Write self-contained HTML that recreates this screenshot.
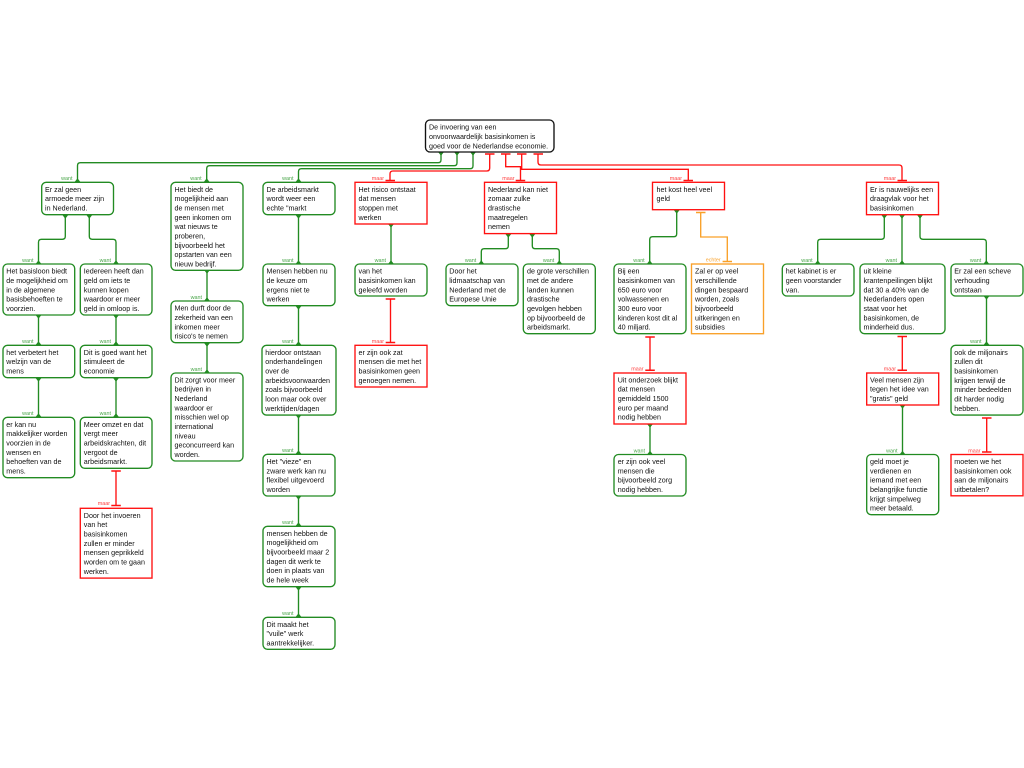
<!DOCTYPE html>
<html><head><meta charset="utf-8"><title>Argumentatieschema</title>
<style>
html,body{margin:0;padding:0;background:#fff;width:1024px;height:768px;overflow:hidden}
svg{display:block;filter:blur(.3px)}
text{font-family:"Liberation Sans",Arial,sans-serif}
.t{font-size:7.15px;fill:#111}
.l{font-size:5.4px;text-anchor:end}
.lg{fill:#4aa64a}.lr{fill:#ff4040}.lo{fill:#f9a533}
.g{fill:#fff;stroke:#228b22;stroke-width:1.35;rx:4.5px}
.r{fill:#fff;stroke:#ff1010;stroke-width:1.35}
.o{fill:#fff;stroke:#f9a028;stroke-width:1.35}
.k{fill:#fff;stroke:#111;stroke-width:1.35;rx:4.5px}
.cg{fill:none;stroke:#228b22;stroke-width:1.35}
.cr{fill:none;stroke:#ff1010;stroke-width:1.35}
.co{fill:none;stroke:#f9a028;stroke-width:1.35}
</style></head><body>
<svg width="1024" height="768" viewBox="0 0 1024 768" xmlns="http://www.w3.org/2000/svg">
<!-- connectors green -->
<path class="cg" d="M441 152V159.7Q441 162.7 438 162.7H80.5Q77.5 162.7 77.5 165.7V182
M457 152V162.7Q457 165.7 454 165.7H209.7Q206.7 165.7 206.7 168.7V182
M473 152V165.7Q473 168.7 470 168.7H301.5Q298.5 168.7 298.5 171.7V182
M65.3 215V236.3Q65.3 239.3 62.3 239.3H41.5Q38.5 239.3 38.5 242.3V264
M89.3 215V236.3Q89.3 239.3 92.3 239.3H113Q116 239.3 116 242.3V264
M38.5 315V345M38.5 378V417M116 315V345M116 378V417
M207 270V301M207 343V373
M298.5 215V264M298.5 306V345M298.5 415V454M298.5 496V526M298.5 587V617
M391 224V264
M508.3 234V245.7Q508.3 248.7 505.3 248.7H484.3Q481.3 248.7 481.3 251.7V264
M532.3 234V245.7Q532.3 248.7 535.3 248.7H556.3Q559.3 248.7 559.3 251.7V264
M676.7 210V233.7Q676.7 236.7 673.7 236.7H652.7Q649.7 236.7 649.7 239.7V264
M650 424V454.5
M884.3 215V236.3Q884.3 239.3 881.3 239.3H820.7Q817.7 239.3 817.7 242.3V264
M902 215V264
M920 215V236.3Q920 239.3 923 239.3H983.3Q986.3 239.3 986.3 242.3V264
M902.5 405V454.5
M986.5 296V345"/>
<!-- connectors red -->
<path class="cr" d="M489.7 154V168Q489.7 171 486.7 171H393Q390 171 390 174V180
M505.7 154V166.7H520.5V180
M521.7 154V169.3H688.3V180
M538 154V162Q538 165 541 165H899Q902 165 902 168V180
M116 471V505
M390.5 299V342
M650 337V370.3
M902.3 336.5V370.3
M986.7 418V452"/>
<path class="cr" style="stroke-width:1.5" d="M485 154H494.5M501 154H510.5M517 154H526.5M533.5 154H543
M385.5 180.5H395M515.7 180.5H525.2M683.5 180.5H693M897.5 180.5H907
M111.3 471H120.8M111.3 505.5H120.8
M385.7 299H395.2M385.7 342.5H395.2
M645.3 337H654.8M645.3 370.3H654.8
M897.5 336.5H907M897.5 370.3H907
M982 418H991.5M982 452H991.5"/>
<path class="co" d="M700.7 212.5V237H727.3V261.5"/>
<path class="co" style="stroke-width:1.5" d="M696 212.5H705.5M722.6 261.5H732"/>
<!-- arrow triangles -->
<path fill="#228b22" stroke="#228b22" stroke-width=".7" d="M438.5 152h5l-2.5 3.2zM454.5 152h5l-2.5 3.2zM470.5 152h5l-2.5 3.2z
M75 182h5l-2.5-3.2zM204.2 182h5l-2.5-3.2zM296 182h5l-2.5-3.2z
M62.8 215h5l-2.5 3.2zM86.8 215h5l-2.5 3.2zM36 264h5l-2.5-3.2zM113.5 264h5l-2.5-3.2z
M36 315h5l-2.5 3.2zM113.5 315h5l-2.5 3.2zM36 345h5l-2.5-3.2zM113.5 345h5l-2.5-3.2z
M36 378h5l-2.5 3.2zM113.5 378h5l-2.5 3.2zM36 417h5l-2.5-3.2zM113.5 417h5l-2.5-3.2z
M204.5 270h5l-2.5 3.2zM204.5 301h5l-2.5-3.2zM204.5 343h5l-2.5 3.2zM204.5 373h5l-2.5-3.2z
M296 215h5l-2.5 3.2zM296 264h5l-2.5-3.2zM296 306h5l-2.5 3.2zM296 345h5l-2.5-3.2z
M296 415h5l-2.5 3.2zM296 454h5l-2.5-3.2zM296 496h5l-2.5 3.2zM296 526h5l-2.5-3.2z
M296 587h5l-2.5 3.2zM296 617h5l-2.5-3.2z
M388.5 224h5l-2.5 3.2zM388.5 264h5l-2.5-3.2z
M505.8 234h5l-2.5 3.2zM529.8 234h5l-2.5 3.2zM478.8 264h5l-2.5-3.2zM556.8 264h5l-2.5-3.2z
M674.2 210h5l-2.5 3.2zM647.2 264h5l-2.5-3.2zM647.5 424h5l-2.5 3.2zM647.5 454.5h5l-2.5-3.2z
M881.8 215h5l-2.5 3.2zM899.5 215h5l-2.5 3.2zM917.5 215h5l-2.5 3.2z
M815.2 264h5l-2.5-3.2zM899.5 264h5l-2.5-3.2zM983.8 264h5l-2.5-3.2z
M900 405h5l-2.5 3.2zM900 454.5h5l-2.5-3.2zM984 296h5l-2.5 3.2zM984 345h5l-2.5-3.2z"/>
<!-- connector labels -->
<g class="l lg">
<text x="72.5" y="180">want</text><text x="201.7" y="180">want</text><text x="293.5" y="180">want</text>
<text x="33.5" y="262">want</text><text x="111" y="262">want</text>
<text x="33.5" y="343">want</text><text x="111" y="343">want</text>
<text x="33.5" y="415">want</text><text x="111" y="415">want</text>
<text x="202" y="299">want</text><text x="202" y="371">want</text>
<text x="293.5" y="262">want</text><text x="293.5" y="343">want</text><text x="293.5" y="452">want</text><text x="293.5" y="524">want</text><text x="293.5" y="615">want</text>
<text x="386" y="262">want</text><text x="476.3" y="262">want</text><text x="554.3" y="262">want</text>
<text x="644.7" y="262">want</text><text x="645" y="452.5">want</text>
<text x="812.7" y="262">want</text><text x="897" y="262">want</text><text x="981.3" y="262">want</text>
<text x="897.5" y="452.5">want</text><text x="981.5" y="343">want</text>
</g>
<g class="l lr">
<text x="384" y="180">maar</text><text x="514.5" y="180">maar</text><text x="682" y="180">maar</text><text x="896" y="180">maar</text>
<text x="110" y="505">maar</text><text x="384" y="343">maar</text>
<text x="643.5" y="370.5">maar</text><text x="896" y="370.5">maar</text><text x="980.5" y="452.5">maar</text>
</g>
<text class="l lo" x="720.7" y="261.5">echter</text>
<!-- nodes -->
<rect class="k" x="425.5" y="120" width="128.5" height="32"/>
<text class="t" y="120.3"><tspan x="429" dy="9.33">De invoering van een</tspan><tspan x="429" dy="9.33">onvoorwaardelijk basisinkomen is</tspan><tspan x="429" dy="9.33">goed voor de Nederlandse economie.</tspan></text>

<rect class="g" x="41.7" y="182.3" width="71.8" height="32.4"/>
<text class="t" y="182.5"><tspan x="45" dy="9.33">Er zal geen</tspan><tspan x="45" dy="9.33">armoede meer zijn</tspan><tspan x="45" dy="9.33">in Nederland.</tspan></text>

<rect class="g" x="171" y="182.3" width="72" height="88"/>
<text class="t" y="182.5"><tspan x="174.5" dy="9.33">Het biedt de</tspan><tspan x="174.5" dy="9.33">mogelijkheid aan</tspan><tspan x="174.5" dy="9.33">de mensen met</tspan><tspan x="174.5" dy="9.33">geen inkomen om</tspan><tspan x="174.5" dy="9.33">wat nieuws te</tspan><tspan x="174.5" dy="9.33">proberen,</tspan><tspan x="174.5" dy="9.33">bijvoorbeeld het</tspan><tspan x="174.5" dy="9.33">opstarten van een</tspan><tspan x="174.5" dy="9.33">nieuw bedrijf.</tspan></text>

<rect class="g" x="263" y="182.3" width="72" height="32.4"/>
<text class="t" y="182.5"><tspan x="266.5" dy="9.33">De arbeidsmarkt</tspan><tspan x="266.5" dy="9.33">wordt weer een</tspan><tspan x="266.5" dy="9.33">echte "markt</tspan></text>

<rect class="r" x="355" y="182.3" width="72" height="41.7"/>
<text class="t" y="182.5"><tspan x="358.5" dy="9.33">Het risico ontstaat</tspan><tspan x="358.5" dy="9.33">dat mensen</tspan><tspan x="358.5" dy="9.33">stoppen met</tspan><tspan x="358.5" dy="9.33">werken</tspan></text>

<rect class="r" x="484.5" y="182.3" width="72" height="51.3"/>
<text class="t" y="182.5"><tspan x="488" dy="9.33">Nederland kan niet</tspan><tspan x="488" dy="9.33">zomaar zulke</tspan><tspan x="488" dy="9.33">drastische</tspan><tspan x="488" dy="9.33">maatregelen</tspan><tspan x="488" dy="9.33">nemen</tspan></text>

<rect class="r" x="652.5" y="182.3" width="72" height="27.4"/>
<text class="t" y="182.5"><tspan x="656.5" dy="9.33">het kost heel veel</tspan><tspan x="656.5" dy="9.33">geld</tspan></text>

<rect class="r" x="866.5" y="182.3" width="72" height="32.4"/>
<text class="t" y="182.5"><tspan x="870" dy="9.33">Er is nauwelijks een</tspan><tspan x="870" dy="9.33">draagvlak voor het</tspan><tspan x="870" dy="9.33">basisinkomen</tspan></text>

<rect class="g" x="3" y="264" width="71.7" height="51"/>
<text class="t" y="264.3"><tspan x="6.3" dy="9.33">Het basisloon biedt</tspan><tspan x="6.3" dy="9.33">de mogelijkheid om</tspan><tspan x="6.3" dy="9.33">in de algemene</tspan><tspan x="6.3" dy="9.33">basisbehoeften te</tspan><tspan x="6.3" dy="9.33">voorzien.</tspan></text>

<rect class="g" x="80.3" y="264" width="71.7" height="51"/>
<text class="t" y="264.3"><tspan x="83.8" dy="9.33">Iedereen heeft dan</tspan><tspan x="83.8" dy="9.33">geld om iets te</tspan><tspan x="83.8" dy="9.33">kunnen kopen</tspan><tspan x="83.8" dy="9.33">waardoor er meer</tspan><tspan x="83.8" dy="9.33">geld in omloop is.</tspan></text>

<rect class="g" x="3" y="345.3" width="71.7" height="32.4"/>
<text class="t" y="345.5"><tspan x="6.3" dy="9.33">het verbetert het</tspan><tspan x="6.3" dy="9.33">welzijn van de</tspan><tspan x="6.3" dy="9.33">mens</tspan></text>

<rect class="g" x="80.3" y="345.3" width="71.7" height="32.4"/>
<text class="t" y="345.5"><tspan x="83.8" dy="9.33">Dit is goed want het</tspan><tspan x="83.8" dy="9.33">stimuleert de</tspan><tspan x="83.8" dy="9.33">economie</tspan></text>

<rect class="g" x="3" y="417.3" width="71.7" height="60.4"/>
<text class="t" y="417.5"><tspan x="6.3" dy="9.33">er kan nu</tspan><tspan x="6.3" dy="9.33">makkelijker worden</tspan><tspan x="6.3" dy="9.33">voorzien in de</tspan><tspan x="6.3" dy="9.33">wensen en</tspan><tspan x="6.3" dy="9.33">behoeften van de</tspan><tspan x="6.3" dy="9.33">mens.</tspan></text>

<rect class="g" x="80.3" y="417.3" width="71.7" height="51"/>
<text class="t" y="417.5"><tspan x="83.8" dy="9.33">Meer omzet en dat</tspan><tspan x="83.8" dy="9.33">vergt meer</tspan><tspan x="83.8" dy="9.33">arbeidskrachten, dit</tspan><tspan x="83.8" dy="9.33">vergoot de</tspan><tspan x="83.8" dy="9.33">arbeidsmarkt.</tspan></text>

<rect class="r" x="80.3" y="508.3" width="71.7" height="69.8"/>
<text class="t" y="508.5"><tspan x="83.8" dy="9.33">Door het invoeren</tspan><tspan x="83.8" dy="9.33">van het</tspan><tspan x="83.8" dy="9.33">basisinkomen</tspan><tspan x="83.8" dy="9.33">zullen er minder</tspan><tspan x="83.8" dy="9.33">mensen geprikkeld</tspan><tspan x="83.8" dy="9.33">worden om te gaan</tspan><tspan x="83.8" dy="9.33">werken.</tspan></text>

<rect class="g" x="171" y="301" width="72" height="41.7"/>
<text class="t" y="301.3"><tspan x="174.5" dy="9.33">Men durft door de</tspan><tspan x="174.5" dy="9.33">zekerheid van een</tspan><tspan x="174.5" dy="9.33">inkomen meer</tspan><tspan x="174.5" dy="9.33">risico's te nemen</tspan></text>

<rect class="g" x="171" y="373" width="72" height="88"/>
<text class="t" y="373"><tspan x="174.5" dy="9.33">Dit zorgt voor meer</tspan><tspan x="174.5" dy="9.33">bedrijven in</tspan><tspan x="174.5" dy="9.33">Nederland</tspan><tspan x="174.5" dy="9.33">waardoor er</tspan><tspan x="174.5" dy="9.33">misschien wel op</tspan><tspan x="174.5" dy="9.33">international</tspan><tspan x="174.5" dy="9.33">niveau</tspan><tspan x="174.5" dy="9.33">geconcurreerd kan</tspan><tspan x="174.5" dy="9.33">worden.</tspan></text>

<rect class="g" x="263" y="264" width="72" height="41.7"/>
<text class="t" y="264.3"><tspan x="266.5" dy="9.33">Mensen hebben nu</tspan><tspan x="266.5" dy="9.33">de keuze om</tspan><tspan x="266.5" dy="9.33">ergens niet te</tspan><tspan x="266.5" dy="9.33">werken</tspan></text>

<rect class="g" x="262" y="345.3" width="74" height="69.8"/>
<text class="t" y="345.5"><tspan x="265.3" dy="9.33">hierdoor ontstaan</tspan><tspan x="265.3" dy="9.33">onderhandelingen</tspan><tspan x="265.3" dy="9.33">over de</tspan><tspan x="265.3" dy="9.33">arbeidsvoorwaarden</tspan><tspan x="265.3" dy="9.33">zoals bijvoorbeeld</tspan><tspan x="265.3" dy="9.33">loon maar ook over</tspan><tspan x="265.3" dy="9.33">werktijden/dagen</tspan></text>

<rect class="g" x="263" y="454.3" width="72" height="41.7"/>
<text class="t" y="454.7"><tspan x="266.5" dy="9.33">Het "vieze" en</tspan><tspan x="266.5" dy="9.33">zware werk kan nu</tspan><tspan x="266.5" dy="9.33">flexibel uitgevoerd</tspan><tspan x="266.5" dy="9.33">worden</tspan></text>

<rect class="g" x="263" y="526.3" width="72" height="60.4"/>
<text class="t" y="526.5"><tspan x="266.5" dy="9.33">mensen hebben de</tspan><tspan x="266.5" dy="9.33">mogelijkheid om</tspan><tspan x="266.5" dy="9.33">bijvoorbeeld maar 2</tspan><tspan x="266.5" dy="9.33">dagen dit werk te</tspan><tspan x="266.5" dy="9.33">doen in plaats van</tspan><tspan x="266.5" dy="9.33">de hele week</tspan></text>

<rect class="g" x="263" y="617.3" width="72" height="32"/>
<text class="t" y="617.5"><tspan x="266.5" dy="9.33">Dit maakt het</tspan><tspan x="266.5" dy="9.33">"vuile" werk</tspan><tspan x="266.5" dy="9.33">aantrekkelijker.</tspan></text>

<rect class="g" x="355" y="264" width="72" height="32"/>
<text class="t" y="264.3"><tspan x="358.5" dy="9.33">van het</tspan><tspan x="358.5" dy="9.33">basisinkomen kan</tspan><tspan x="358.5" dy="9.33">geleefd worden</tspan></text>

<rect class="r" x="355" y="345.3" width="72" height="41.7"/>
<text class="t" y="345.5"><tspan x="358.5" dy="9.33">er zijn ook zat</tspan><tspan x="358.5" dy="9.33">mensen die met het</tspan><tspan x="358.5" dy="9.33">basisinkomen geen</tspan><tspan x="358.5" dy="9.33">genoegen nemen.</tspan></text>

<rect class="g" x="446" y="264" width="72" height="41.7"/>
<text class="t" y="264.3"><tspan x="449.3" dy="9.33">Door het</tspan><tspan x="449.3" dy="9.33">lidmaatschap van</tspan><tspan x="449.3" dy="9.33">Nederland met de</tspan><tspan x="449.3" dy="9.33">Europese Unie</tspan></text>

<rect class="g" x="523.3" y="264" width="72" height="69.7"/>
<text class="t" y="264.3"><tspan x="527" dy="9.33">de grote verschillen</tspan><tspan x="527" dy="9.33">met de andere</tspan><tspan x="527" dy="9.33">landen kunnen</tspan><tspan x="527" dy="9.33">drastische</tspan><tspan x="527" dy="9.33">gevolgen hebben</tspan><tspan x="527" dy="9.33">op bijvoorbeeld de</tspan><tspan x="527" dy="9.33">arbeidsmarkt.</tspan></text>

<rect class="g" x="614" y="264" width="72" height="69.7"/>
<text class="t" y="264.3"><tspan x="617.7" dy="9.33">Bij een</tspan><tspan x="617.7" dy="9.33">basisinkomen van</tspan><tspan x="617.7" dy="9.33">650 euro voor</tspan><tspan x="617.7" dy="9.33">volwassenen en</tspan><tspan x="617.7" dy="9.33">300 euro voor</tspan><tspan x="617.7" dy="9.33">kinderen kost dit al</tspan><tspan x="617.7" dy="9.33">40 miljard.</tspan></text>

<rect class="o" x="691.5" y="264" width="72" height="69.7"/>
<text class="t" y="264.3"><tspan x="695" dy="9.33">Zal er op veel</tspan><tspan x="695" dy="9.33">verschillende</tspan><tspan x="695" dy="9.33">dingen bespaard</tspan><tspan x="695" dy="9.33">worden, zoals</tspan><tspan x="695" dy="9.33">bijvoorbeeld</tspan><tspan x="695" dy="9.33">uitkeringen en</tspan><tspan x="695" dy="9.33">subsidies</tspan></text>

<rect class="r" x="614" y="373" width="72" height="51"/>
<text class="t" y="373"><tspan x="617.7" dy="9.33">Uit onderzoek blijkt</tspan><tspan x="617.7" dy="9.33">dat mensen</tspan><tspan x="617.7" dy="9.33">gemiddeld 1500</tspan><tspan x="617.7" dy="9.33">euro per maand</tspan><tspan x="617.7" dy="9.33">nodig hebben</tspan></text>

<rect class="g" x="614" y="454.5" width="72" height="41.5"/>
<text class="t" y="454.7"><tspan x="617.7" dy="9.33">er zijn ook veel</tspan><tspan x="617.7" dy="9.33">mensen die</tspan><tspan x="617.7" dy="9.33">bijvoorbeeld zorg</tspan><tspan x="617.7" dy="9.33">nodig hebben.</tspan></text>

<rect class="g" x="782.3" y="264" width="71.7" height="32"/>
<text class="t" y="264.3"><tspan x="785.8" dy="9.33">het kabinet is er</tspan><tspan x="785.8" dy="9.33">geen voorstander</tspan><tspan x="785.8" dy="9.33">van.</tspan></text>

<rect class="g" x="860" y="264" width="85" height="69.7"/>
<text class="t" y="264.3"><tspan x="863.5" dy="9.33">uit kleine</tspan><tspan x="863.5" dy="9.33">krantenpeilingen blijkt</tspan><tspan x="863.5" dy="9.33">dat 30 a 40% van de</tspan><tspan x="863.5" dy="9.33">Nederlanders open</tspan><tspan x="863.5" dy="9.33">staat voor het</tspan><tspan x="863.5" dy="9.33">basisinkomen, de</tspan><tspan x="863.5" dy="9.33">minderheid dus.</tspan></text>

<rect class="g" x="951" y="264" width="72" height="32"/>
<text class="t" y="264.3"><tspan x="954.3" dy="9.33">Er zal een scheve</tspan><tspan x="954.3" dy="9.33">verhouding</tspan><tspan x="954.3" dy="9.33">ontstaan</tspan></text>

<rect class="g" x="951" y="345.3" width="72" height="69.8"/>
<text class="t" y="345.5"><tspan x="954.3" dy="9.33">ook de miljonairs</tspan><tspan x="954.3" dy="9.33">zullen dit</tspan><tspan x="954.3" dy="9.33">basisinkomen</tspan><tspan x="954.3" dy="9.33">krijgen terwijl de</tspan><tspan x="954.3" dy="9.33">minder bedeelden</tspan><tspan x="954.3" dy="9.33">dit harder nodig</tspan><tspan x="954.3" dy="9.33">hebben.</tspan></text>

<rect class="r" x="866.7" y="373" width="72" height="32"/>
<text class="t" y="373"><tspan x="870" dy="9.33">Veel mensen zijn</tspan><tspan x="870" dy="9.33">tegen het idee van</tspan><tspan x="870" dy="9.33">"gratis" geld</tspan></text>

<rect class="g" x="866.7" y="454.5" width="72" height="60.2"/>
<text class="t" y="454.7"><tspan x="870" dy="9.33">geld moet je</tspan><tspan x="870" dy="9.33">verdienen en</tspan><tspan x="870" dy="9.33">iemand met een</tspan><tspan x="870" dy="9.33">belangrijke functie</tspan><tspan x="870" dy="9.33">krijgt simpelweg</tspan><tspan x="870" dy="9.33">meer betaald.</tspan></text>

<rect class="r" x="951" y="454.5" width="72" height="41.3"/>
<text class="t" y="454.7"><tspan x="954.3" dy="9.33">moeten we het</tspan><tspan x="954.3" dy="9.33">basisinkomen ook</tspan><tspan x="954.3" dy="9.33">aan de miljonairs</tspan><tspan x="954.3" dy="9.33">uitbetalen?</tspan></text>
</svg>
</body></html>
